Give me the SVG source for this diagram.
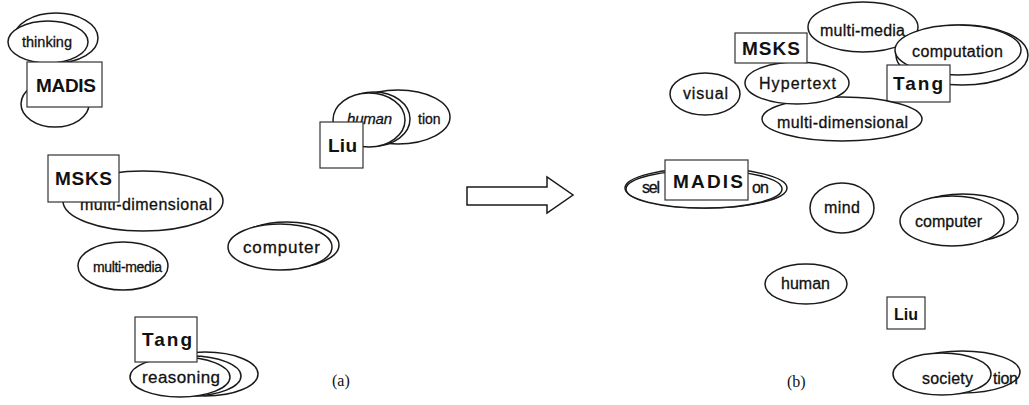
<svg xmlns="http://www.w3.org/2000/svg" width="1029" height="405" viewBox="0 0 1029 405">
<style>
.e{fill:#fff;stroke:#1a1a1a;stroke-width:1.5}
.b{fill:#fff;stroke:#333;stroke-width:1.2}
.t{font-family:"Liberation Sans",Arial,sans-serif;font-size:16px;fill:#111;stroke:#111;stroke-width:0.3}
.bt{font-family:"Liberation Sans",Arial,sans-serif;font-size:19px;font-weight:bold;fill:#111}
.cap{font-family:"Liberation Serif","Times New Roman",serif;font-size:16px;fill:#111}
</style>
<rect width="1029" height="405" fill="#fff"/>
<!-- (a) left -->
<g id="a-madis">
<ellipse class="e" cx="55" cy="104" rx="34" ry="23"/>
<ellipse class="e" cx="56" cy="38" rx="42" ry="25"/>
<ellipse class="e" cx="48" cy="42" rx="40" ry="21"/>
<text class="t" x="22" y="47" textLength="50" style="font-size:14.5px">thinking</text>
<rect class="b" x="27" y="62" width="75" height="45"/>
<text class="bt" x="36" y="92" textLength="60">MADIS</text>
</g>
<g id="a-msks">
<ellipse class="e" cx="143" cy="201" rx="80" ry="30"/>
<text class="t" x="80" y="210" textLength="132">multi-dimensional</text>
<rect class="b" x="48" y="155" width="71" height="47"/>
<text class="bt" x="55" y="185" textLength="57">MSKS</text>
</g>
<g id="a-multimedia">
<ellipse class="e" cx="123" cy="266" rx="45" ry="24"/>
<text class="t" x="93" y="272" textLength="69" style="font-size:14px">multi-media</text>
</g>
<g id="a-liu">
<ellipse class="e" cx="398" cy="117" rx="52" ry="27"/>
<text class="t" x="418" y="124" style="font-size:14px">tion</text>
<ellipse class="e" cx="374" cy="119" rx="36" ry="27"/>
<ellipse class="e" cx="369" cy="120" rx="36" ry="27"/>
<text class="t" x="347" y="124" textLength="45" font-style="italic" style="font-size:15px">human</text>
<rect class="b" x="320" y="122" width="43" height="46"/>
<text class="bt" x="328" y="152" textLength="29">Liu</text>
</g>
<g id="a-computer">
<ellipse class="e" cx="287" cy="245" rx="52" ry="23"/>
<ellipse class="e" cx="280" cy="247" rx="52" ry="23"/>
<text class="t" x="243" y="253" textLength="77" style="font-size:17px">computer</text>
</g>
<g id="a-tang">
<ellipse class="e" cx="205" cy="374" rx="53" ry="22"/>
<text class="t" x="228" y="382">n</text>
<ellipse class="e" cx="191" cy="376" rx="50" ry="20"/>
<ellipse class="e" cx="180" cy="377" rx="50" ry="20"/>
<text class="t" x="142" y="383" textLength="78" style="font-size:17px">reasoning</text>
<rect class="b" x="135" y="317" width="62" height="45"/>
<text class="bt" x="142" y="346" textLength="50">Tang</text>
</g>
<text class="cap" x="332" y="386">(a)</text>
<!-- transformation arrow -->
<g id="connectors">
<polygon points="467,187 547,187 547,177 573,195 547,213 547,205 467,205" fill="#fff" stroke="#1a1a1a" stroke-width="1.5"/>
</g>
<!-- (b) right -->
<g id="b-multimedia">
<ellipse class="e" cx="863" cy="27" rx="55" ry="25"/>
<text class="t" x="820" y="36" textLength="85">multi-media</text>
</g>
<g id="b-tang">
<ellipse class="e" cx="962" cy="55" rx="66" ry="30"/>
<ellipse class="e" cx="958" cy="50" rx="63" ry="25"/>
<text class="t" x="912" y="57" textLength="91">computation</text>
<rect class="b" x="887" y="65" width="63" height="37"/>
<text class="bt" x="893" y="90" textLength="50">Tang</text>
</g>
<g id="b-visual">
<ellipse class="e" cx="705" cy="94" rx="35" ry="21"/>
<text class="t" x="683" y="99" textLength="45">visual</text>
</g>
<g id="b-multidimensional">
<ellipse class="e" cx="842" cy="119" rx="80" ry="22"/>
<text class="t" x="777" y="128" textLength="131">multi-dimensional</text>
</g>
<g id="b-hypertext">
<ellipse class="e" cx="797" cy="83" rx="52" ry="21"/>
<text class="t" x="759" y="89" textLength="77">Hypertext</text>
</g>
<g id="b-msks">
<rect class="b" x="735" y="33" width="72" height="30"/>
<text class="bt" x="742" y="55" textLength="58">MSKS</text>
</g>
<g id="b-madis">
<ellipse class="e" cx="706" cy="188" rx="81" ry="20"/>
<ellipse class="e" cx="704" cy="189" rx="78" ry="19"/>
<text class="t" x="642" y="193" textLength="18">sel</text>
<text class="t" x="752" y="193" textLength="17">on</text>
<rect class="b" x="665" y="160" width="83" height="40"/>
<text class="bt" x="673" y="188" textLength="70">MADIS</text>
</g>
<g id="b-mind">
<ellipse class="e" cx="842" cy="208" rx="32" ry="25"/>
<text class="t" x="824" y="213" textLength="36">mind</text>
</g>
<g id="b-computer">
<ellipse class="e" cx="963" cy="218" rx="55" ry="24"/>
<ellipse class="e" cx="952" cy="221" rx="52" ry="25"/>
<text class="t" x="915" y="227" textLength="67">computer</text>
</g>
<g id="b-human">
<ellipse class="e" cx="806" cy="284" rx="41" ry="20"/>
<text class="t" x="781" y="289" textLength="49">human</text>
</g>
<g id="b-liu">
<rect class="b" x="887" y="297" width="38" height="32"/>
<text class="bt" x="906" y="320" text-anchor="middle" style="font-size:16px">Liu</text>
</g>
<g id="b-society">
<ellipse class="e" cx="962" cy="372" rx="58" ry="21"/>
<text class="t" x="993" y="384" textLength="25">tion</text>
<ellipse class="e" cx="942" cy="374" rx="49" ry="21"/>
<text class="t" x="922" y="384" textLength="51">society</text>
</g>
<text class="cap" x="787" y="387">(b)</text>
</svg>
